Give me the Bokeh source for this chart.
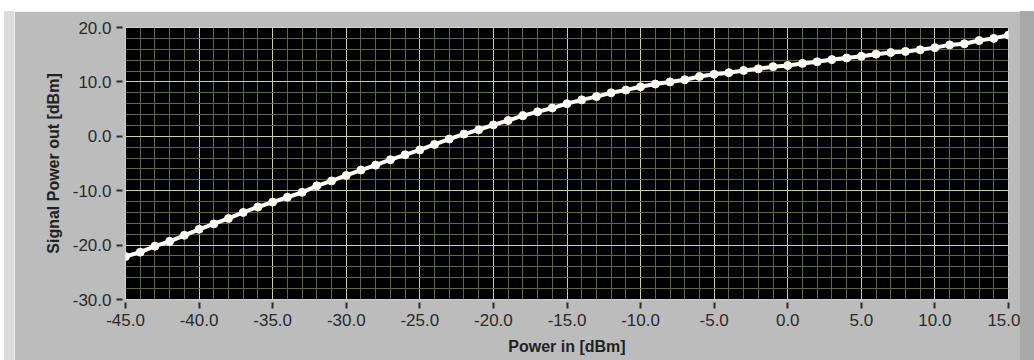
from bokeh.plotting import figure
from bokeh.models import Range1d, FixedTicker, Spacer, ColumnDataSource, NumeralTickFormatter
from bokeh.layouts import column, row
from bokeh.embed import file_html
from bokeh.resources import INLINE

power_in = [-45, -44, -43, -42, -41, -40, -39, -38, -37, -36,
            -35, -34, -33, -32, -31, -30, -29, -28, -27, -26,
            -25, -24, -23, -22, -21, -20, -19, -18, -17, -16,
            -15, -14, -13, -12, -11, -10, -9, -8, -7, -6,
            -5, -4, -3, -2, -1, 0, 1, 2, 3, 4,
            5, 6, 7, 8, 9, 10, 11, 12, 13, 14, 15]
signal_out = [-22.1, -21.3, -20.2, -19.3, -18.2, -17.1, -16.1, -15.1, -14.0, -13.0,
              -12.1, -11.2, -10.3, -9.1, -8.2, -7.2, -6.2, -5.3, -4.3, -3.4,
              -2.5, -1.5, -0.5, 0.4, 1.2, 2.1, 2.9, 3.8, 4.5, 5.2,
              6.0, 6.7, 7.3, 8.0, 8.5, 9.1, 9.6, 10.0, 10.4, 11.0,
              11.4, 11.7, 12.1, 12.4, 12.8, 13.0, 13.4, 13.7, 14.1, 14.4,
              14.7, 15.1, 15.4, 15.6, 15.9, 16.3, 16.8, 17.0, 17.6, 18.0, 18.6]
x_major = [-45, -40, -35, -30, -25, -20, -15, -10, -5, 0, 5, 10, 15]
x_minor = [-44, -43, -42, -41, -39, -38, -37, -36, -34, -33, -32, -31,
           -29, -28, -27, -26, -24, -23, -22, -21, -19, -18, -17, -16,
           -14, -13, -12, -11, -9, -8, -7, -6, -4, -3, -2, -1,
           1, 2, 3, 4, 6, 7, 8, 9, 11, 12, 13, 14]
y_major = [-30, -20, -10, 0, 10, 20]
y_minor = [-28, -26, -24, -22, -18, -16, -14, -12, -8, -6, -4, -2,
           2, 4, 6, 8, 12, 14, 16, 18]

PANEL = "#bcbcbc"
FONT = "Liberation Sans"

src = ColumnDataSource(data=dict(x=power_in, y=signal_out))

p = figure(width=1006, height=349, output_backend="svg", toolbar_location=None,
           x_range=Range1d(-45, 15), y_range=Range1d(-30, 20),
           min_border_left=111, min_border_right=12, min_border_top=16, min_border_bottom=61)
p.background_fill_color = "black"
p.border_fill_color = PANEL
p.outline_line_color = "#cfcfcf"
p.outline_line_width = 1

p.xaxis.ticker = FixedTicker(ticks=x_major, minor_ticks=x_minor)
p.yaxis.ticker = FixedTicker(ticks=y_major, minor_ticks=y_minor)

for ax in (p.xaxis[0], p.yaxis[0]):
    ax.axis_line_color = None
    ax.major_tick_in = -3
    ax.major_tick_out = 9
    ax.major_tick_line_color = "#2a2a2a"
    ax.major_tick_line_width = 2
    ax.minor_tick_line_color = None
    ax.major_label_text_font = FONT
    ax.major_label_text_font_size = "17px"
    ax.major_label_text_color = "#2a2a2a"
    ax.axis_label_text_font = FONT
    ax.axis_label_text_font_size = "16px"
    ax.axis_label_text_font_style = "bold"
    ax.axis_label_text_color = "#222222"

p.xaxis.formatter = NumeralTickFormatter(format="0.0")
p.yaxis.formatter = NumeralTickFormatter(format="0.0")
p.xaxis.axis_label = "Power in [dBm]"
p.yaxis.axis_label = "Signal Power out [dBm]"
p.xaxis.major_label_standoff = 5
p.yaxis.major_label_standoff = 5
p.xaxis.axis_label_standoff = 9
p.yaxis.axis_label_standoff = 8

for g in (p.xgrid[0], p.ygrid[0]):
    g.grid_line_color = "#cfcf9c"
    g.grid_line_width = 1
    g.minor_grid_line_color = "#66663c"
    g.minor_grid_line_width = 1

p.line("x", "y", source=src, line_color="white", line_width=4)
p.scatter("x", "y", source=src, size=8, fill_color="#fbfbf2", line_color="#fbfbf2")

top = Spacer(width=1034, height=11)
left_white = Spacer(width=4, height=349)
left_light = Spacer(width=10, height=349, styles={"background-color": "#dcdcdc"})
right_dark = Spacer(width=14, height=349, styles={"background-color": "#a8a8a8"})
layout = column(top, row(left_white, left_light, p, right_dark, spacing=0), spacing=0)

open("out.html", "w").write(file_html(layout, INLINE))
